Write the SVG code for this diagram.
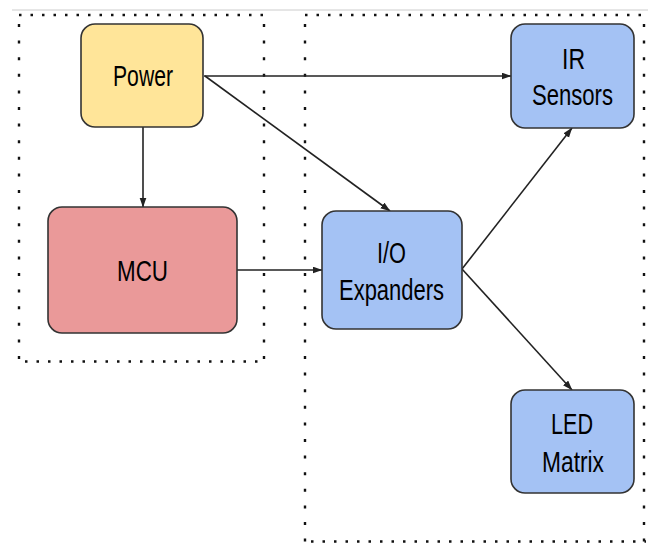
<svg xmlns="http://www.w3.org/2000/svg" width="648" height="543" viewBox="0 0 648 543">
<defs>
<style>
.box{stroke:#333;stroke-width:1.6}
.lbl{font-family:"Liberation Sans",Arial,sans-serif;font-size:30px;fill:#000;text-anchor:middle}
.conn{stroke:#222;stroke-width:1.6;fill:none}
.dh{stroke:#111;stroke-width:2.6;stroke-dasharray:2.5 9;fill:none}
.dv{stroke:#111;stroke-width:2.4;stroke-dasharray:3 13.6;fill:none}
</style>
<marker id="arr" markerUnits="userSpaceOnUse" markerWidth="10" markerHeight="8" refX="9.5" refY="3.5" orient="auto">
<path d="M0,0 L10,3.5 L0,7 z" fill="#222"/>
</marker>
</defs>
<rect width="648" height="543" fill="#fff"/>
<line x1="12" y1="10" x2="648" y2="10" stroke="#ccc" stroke-width="1"/>
<g id="group-left">
<line class="dh" x1="19" y1="15" x2="266" y2="15"/>
<line class="dv" x1="19" y1="24" x2="19" y2="362"/>
<line class="dv" x1="264" y1="24" x2="264" y2="362"/>
<line class="dh" x1="25" y1="361.5" x2="266" y2="361.5"/>
</g>
<g id="group-right">
<line class="dh" x1="305" y1="15" x2="646" y2="15"/>
<line class="dv" x1="305" y1="24" x2="305" y2="543"/>
<line class="dv" x1="644" y1="24" x2="644" y2="543"/>
<line class="dh" x1="311" y1="541.5" x2="646" y2="541.5"/>
</g>
<g id="connectors">
<line class="conn" x1="143" y1="127" x2="143" y2="207" marker-end="url(#arr)"/>
<line class="conn" x1="204" y1="76" x2="511" y2="76" marker-end="url(#arr)"/>
<line class="conn" x1="205" y1="76" x2="390" y2="211" marker-end="url(#arr)"/>
<line class="conn" x1="237" y1="270" x2="322" y2="270" marker-end="url(#arr)"/>
<line class="conn" x1="462" y1="269" x2="572" y2="128" marker-end="url(#arr)"/>
<line class="conn" x1="462" y1="269" x2="572" y2="390" marker-end="url(#arr)"/>
</g>
<g id="power">
<rect class="box" x="81" y="24" width="122" height="103" rx="14" fill="#ffe599"/>
<text class="lbl" x="143" y="86" textLength="60" lengthAdjust="spacingAndGlyphs">Power</text>
</g>
<g id="mcu">
<rect class="box" x="48" y="207" width="189" height="126" rx="14" fill="#ea9999"/>
<text class="lbl" x="142.5" y="281" textLength="51" lengthAdjust="spacingAndGlyphs">MCU</text>
</g>
<g id="io-expanders">
<rect class="box" x="322" y="211" width="140" height="118" rx="14" fill="#a4c2f4"/>
<text class="lbl" x="391.5" y="263" textLength="29" lengthAdjust="spacingAndGlyphs">I/O</text>
<text class="lbl" x="391.5" y="300" textLength="105" lengthAdjust="spacingAndGlyphs">Expanders</text>
</g>
<g id="ir-sensors">
<rect class="box" x="511" y="24" width="123" height="104" rx="14" fill="#a4c2f4"/>
<text class="lbl" x="573.5" y="69" textLength="23" lengthAdjust="spacingAndGlyphs">IR</text>
<text class="lbl" x="572.5" y="105" textLength="81" lengthAdjust="spacingAndGlyphs">Sensors</text>
</g>
<g id="led-matrix">
<rect class="box" x="511" y="390" width="123" height="103" rx="14" fill="#a4c2f4"/>
<text class="lbl" x="572" y="434" textLength="42" lengthAdjust="spacingAndGlyphs">LED</text>
<text class="lbl" x="573" y="472" textLength="62" lengthAdjust="spacingAndGlyphs">Matrix</text>
</g>
</svg>
